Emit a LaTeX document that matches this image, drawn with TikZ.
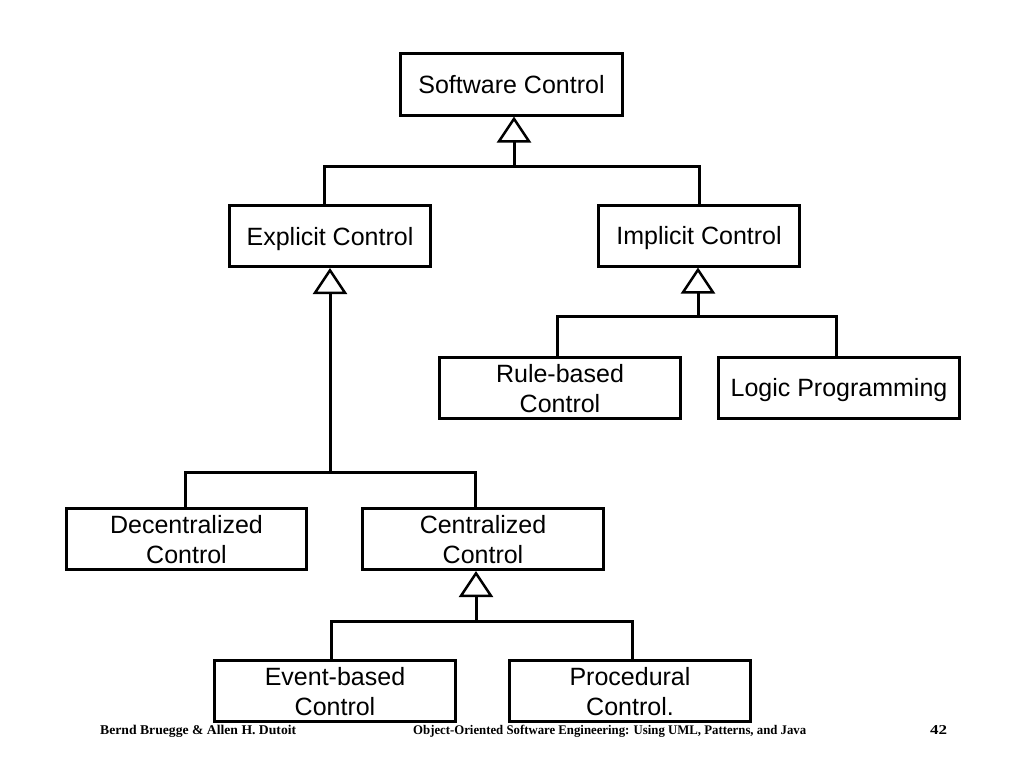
\documentclass[tikz,border=0pt]{standalone}
\usepackage{fontspec}
\setmainfont{Liberation Sans}
\newfontfamily\footfont{Liberation Serif}
\usetikzlibrary{arrows.meta}
\begin{document}
\begin{tikzpicture}[x=1pt,y=-1pt,
  cls/.style={draw,line width=3pt,inner sep=0pt,align=center,text depth=0pt,
    minimum height=61pt,font={\fontsize{25}{30}\selectfont}},
  line/.style={line width=3pt},
  gen/.style={line width=3pt,-{Triangle[open,length=26pt,width=34pt,line width=2.5pt]}},
  foot/.style={inner sep=0pt,anchor=base west,font=\footfont\bfseries}]
\fill[white] (0,0) rectangle (1024,768);
\useasboundingbox (0,0) rectangle (1024,768);

\node[cls,minimum width=222pt] (sw) at (511.5,84.5) {Software Control};
\node[cls,minimum width=201pt] (exp) at (330,236) {Explicit Control};
\node[cls,minimum width=201pt] (imp) at (699,235.5) {Implicit Control};
\node[cls,minimum width=241pt] (rule) at (560,388) {Rule-based\\Control};
\node[cls,minimum width=241pt] (logic) at (839,387.5) {Logic Programming};
\node[cls,minimum width=240pt] (dec) at (186.5,539) {Decentralized\\Control};
\node[cls,minimum width=241pt] (cen) at (483,539) {Centralized\\Control};
\node[cls,minimum width=241pt] (evt) at (335,691) {Event-based\\Control};
\node[cls,minimum width=241pt] (proc) at (630,691) {Procedural\\Control.};

\coordinate (j1) at (514,166);
\draw[gen] (j1) -- (j1 |- sw.south);
\draw[line] ([xshift=-6pt]exp.north) |- (j1) -| (imp.north);

\coordinate (j2) at (330,472);
\draw[gen] (j2) -- (exp.south);
\draw[line] ([xshift=-1.5pt]dec.north) |- (j2) -| ([xshift=-8pt]cen.north);

\coordinate (j3) at (698,316);
\draw[gen] (j3) -- (j3 |- imp.south);
\draw[line] ([xshift=-3pt]rule.north) |- (j3) -| ([xshift=-3pt]logic.north);

\coordinate (j4) at (476,621);
\draw[gen] (j4) -- (j4 |- cen.south);
\draw[line] ([xshift=-4pt]evt.north) |- (j4) -| ([xshift=2pt]proc.north);

\node[foot] (f1) at (100,734) {\resizebox{196pt}{9.3pt}{Bernd Bruegge \& Allen H. Dutoit}};
\node[foot] (f2) at (413,734) {\resizebox{393pt}{9.3pt}{Object-Oriented Software Engineering: Using UML, Patterns, and Java}};
\node[foot] (f3) at (930,734) {\resizebox{17pt}{9pt}{42}};
\end{tikzpicture}
\end{document}
